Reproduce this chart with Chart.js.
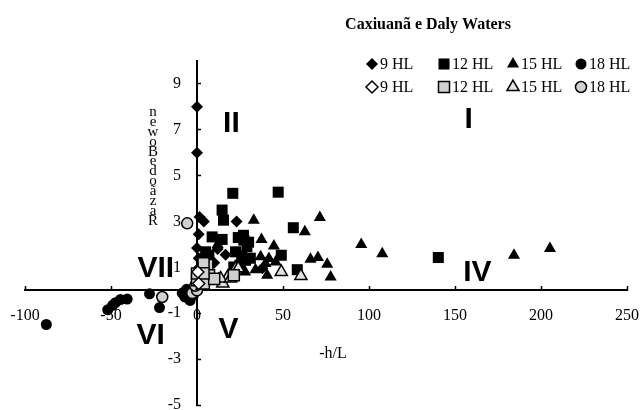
<!DOCTYPE html>
<html>
<head>
<meta charset="utf-8">
<script src="https://cdn.jsdelivr.net/npm/chart.js@4.4.0/dist/chart.umd.min.js"></script>
<style>
  body { margin: 0; background: #fff; }
</style>
</head>
<body>
<canvas id="bowenChart" width="640" height="410"></canvas>
<script>
// tick labels
const xTicks = [-100, -50, 0, 50, 100, 150, 200, 250];
const yTicks = [-5, -3, -1, 1, 3, 5, 7, 9];
const seriesNames = ['9 HL', '12 HL', '15 HL', '18 HL'];

// filled symbols: [-h/L, Bowen ratio]
const hl9Filled = [[0, 8.0], [0, 6.0], [1.5, 3.2], [4, 3.0], [23, 3.0], [1, 2.45], [0, 1.85],
  [16.6, 1.55], [1, 1.4], [0, 0.9], [38, 0.96], [3, 0.6], [10, 1.2], [12, 1.8]];
const hl12Filled = [[20.8, 4.23], [47.2, 4.28], [14.6, 3.5], [15.4, 3.06], [56, 2.73], [8.8, 2.33],
  [14.6, 2.22], [27.2, 2.19], [29, 1.9], [22.4, 1.68], [6.9, 1.53], [5, 1.68], [28.2, 1.31],
  [21.4, 1.02], [58.3, 0.9], [49, 1.53], [140.3, 1.43], [24, 2.3], [27, 2.4], [30, 2.1],
  [26, 1.5], [31, 1.4], [25, 1.1], [5, 1.2]];
const hl15Filled = [[33, 3.06], [71.4, 3.18], [62.7, 2.55], [37.5, 2.22], [44.7, 1.93], [41.8, 1.39],
  [39.8, 1.17], [45.7, 1.24], [40.8, 0.66], [66, 1.36], [70.3, 1.43], [75.7, 1.14], [77.7, 0.58],
  [95.5, 2.0], [107.7, 1.6], [184.3, 1.53], [205.2, 1.82], [37, 1.46], [24.3, 1.02], [12, 2.0],
  [28, 0.8], [34, 0.9]];
const hl18Filled = [[-87.6, -1.49], [-51.9, -0.85], [-49, -0.65], [-47.4, -0.54], [-44.5, -0.4],
  [-40.6, -0.38], [-27.6, -0.15], [-21.8, -0.75], [-8.6, -0.12], [-7.1, -0.29], [-4, -0.44],
  [-6, 0.05], [-2, -0.2]];

// open symbols
const hl9Open = [[1, 0.3], [0.5, 0.8]];
const hl12Open = [[6, 1.1], [7, 0.66], [0, 0.44], [0, 0.73], [21.4, 0.66], [4, 0.3], [10, 0.5],
  [3.8, 1.18], [3.8, 0.74]];
const hl15Open = [[49, 0.8], [60.4, 0.63], [22.4, 0.95], [5, 0.44], [9.8, 0.44], [12.7, 0.44],
  [15, 0.3], [3, 0.2], [18, 0.6], [13.7, 0.52], [19.5, 0.52], [24, 0.96]];
const hl18Open = [[-5.7, 2.92], [-20.2, -0.29], [-2.8, -0.12], [0, 0.0], [-1, 0.2]];

const shapes = ['rectRot', 'rect', 'triangle', 'circle'];
const sizes = [6, 7.8, 7, 5.5];
const openFill = ['#ffffff', '#d0d0d0', '#e2e2e2', '#d0d0d0'];

function makeSet(label, data, i, open) {
  return {
    label: label,
    data: data,
    pointStyle: shapes[i],
    pointRadius: sizes[i],
    pointHoverRadius: sizes[i],
    pointBackgroundColor: open ? openFill[i] : '#000',
    pointBorderColor: '#000',
    pointBorderWidth: open ? 1.5 : 0,
    order: open ? 1 : 2,
    clip: false
  };
}

const datasets = [
  makeSet(seriesNames[0], hl9Filled, 0, false),
  makeSet(seriesNames[1], hl12Filled, 1, false),
  makeSet(seriesNames[2], hl15Filled, 2, false),
  makeSet(seriesNames[3], hl18Filled, 3, false),
  makeSet(seriesNames[0], hl9Open, 0, true),
  makeSet(seriesNames[1], hl12Open, 1, true),
  makeSet(seriesNames[2], hl15Open, 2, true),
  makeSet(seriesNames[3], hl18Open, 3, true)
];

// titles, legend, quadrant numbers
const decor = {
  id: 'decor',
  afterDraw(chart) {
    const ctx = chart.ctx;
    const xs = chart.scales.x, ys = chart.scales.y;
    ctx.save();
    ctx.fillStyle = '#000';
    ctx.textBaseline = 'middle';

    ctx.font = 'bold 16px "Liberation Serif"';
    ctx.textAlign = 'center';
    ctx.fillText('Caxiuanã e Daly Waters', 428, 25);

    ctx.font = '16px "Liberation Serif"';
    ctx.fillText('-h/L', 333, 354);

    // stacked y title
    const letters = 'Razão de Bowen'.replace(/ /g, '').split('').reverse();
    ctx.font = '15px "Liberation Serif"';
    letters.forEach((ch, i) => ctx.fillText(ch, 153, 112 + i * 9.9));

    // legend, two rows
    const colX = [372, 444, 513, 581];
    const rowY = [64, 87];
    ctx.textAlign = 'left';
    ctx.font = '16px "Liberation Serif"';
    chart.data.datasets.forEach((ds, k) => {
      const col = k % 4, row = Math.floor(k / 4);
      const x = colX[col], y = rowY[row];
      ctx.fillStyle = ds.pointBackgroundColor;
      ctx.strokeStyle = ds.pointBorderColor;
      ctx.lineWidth = ds.pointBorderWidth;
      Chart.helpers.drawPoint(ctx, {
        pointStyle: ds.pointStyle, radius: ds.pointRadius, rotation: 0, borderWidth: ds.pointBorderWidth
      }, x, y);
      ctx.fillStyle = '#000';
      ctx.fillText(ds.label, x + 8, y + 1);
    });

    // quadrant numbers
    ctx.font = 'bold 30px "Liberation Sans"';
    ctx.textAlign = 'center';
    const quads = [['I', 158, 7.48], ['II', 20, 7.3], ['IV', 163, 0.83],
      ['V', 18.3, -1.66], ['VI', -27, -1.93], ['VII', -24, 1.0]];
    quads.forEach(q => ctx.fillText(q[0], xs.getPixelForValue(q[1]), ys.getPixelForValue(q[2]) + 1));
    ctx.restore();
  }
};

new Chart(document.getElementById('bowenChart'), {
  type: 'scatter',
  data: { datasets: datasets },
  options: {
    responsive: false,
    animation: false,
    layout: { autoPadding: false, padding: { left: 25, right: 13, top: 61, bottom: 5 } },
    plugins: { legend: { display: false }, tooltip: { enabled: false } },
    scales: {
      x: {
        type: 'linear',
        min: -100, max: 250,
        position: { y: 0 },
        afterFit: s => { s.height = 0; s.paddingLeft = 0; s.paddingRight = 0; },
        afterBuildTicks: s => { s.ticks = xTicks.map(v => ({ value: v })); },
        border: { color: '#000', width: 2 },
        grid: { drawOnChartArea: false, drawTicks: true, tickLength: -5, tickColor: '#000', tickWidth: 1.5 },
        ticks: { color: '#000', padding: 21, maxRotation: 0, font: { family: 'Liberation Serif', size: 16 } }
      },
      y: {
        type: 'linear',
        min: -5, max: 10,
        position: { x: 0 },
        afterFit: s => { s.width = 0; s.paddingTop = 0; s.paddingBottom = 0; },
        afterBuildTicks: s => { s.ticks = yTicks.map(v => ({ value: v })); },
        border: { color: '#000', width: 2 },
        grid: { drawOnChartArea: false, drawTicks: true, tickLength: -5, tickColor: '#000', tickWidth: 1.5 },
        ticks: {
          color: '#000',
          font: { family: 'Liberation Serif', size: 16 },
          callback: v => v + '\u2002\u2002'
        }
      }
    }
  },
  plugins: [decor]
});
</script>
</body>
</html>
